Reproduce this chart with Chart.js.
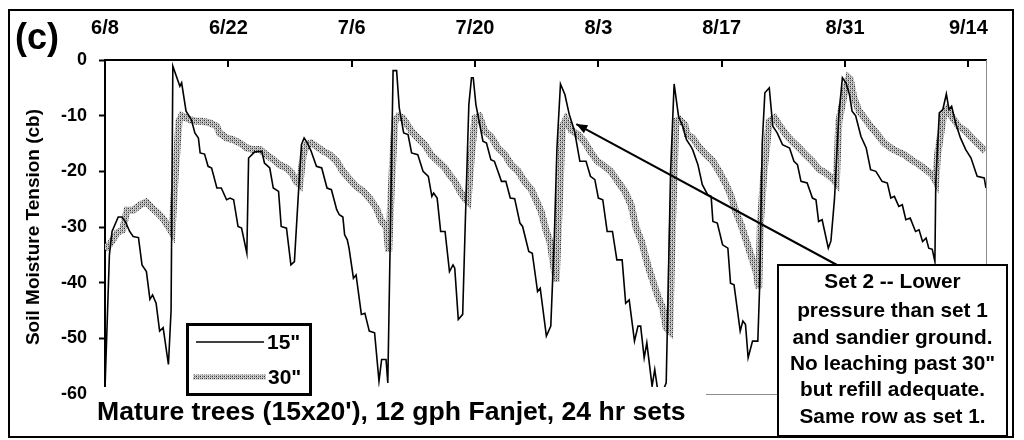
<!DOCTYPE html>
<html><head><meta charset="utf-8">
<script src="https://cdn.jsdelivr.net/npm/chart.js@4/dist/chart.umd.min.js"></script>
<style>html,body{margin:0;padding:0;background:#fff;}#wrap{width:1024px;height:440px;}</style>
</head><body><div id="wrap"><canvas id="c" width="1024" height="440"></canvas></div>
<script>
// ---- data (x = days after 6/8, y = soil moisture tension in cb) ----
const xTickDays = [0, 14, 28, 42, 56, 70, 84, 98];
const xTickLabels = ['6/8', '6/22', '7/6', '7/20', '8/3', '8/17', '8/31', '9/14'];
const seriesLabels = ['15"', '30"'];

const days15 = [0,0.5,0.8,1.5,1.9,2.3,2.8,3.2,3.8,4.2,4.7,5.1,5.4,5.8,6.2,6.6,7.2,7.5,7.7,8.3,8.5,8.7,9.2,9.8,10.2,10.6,10.8,11.3,11.7,12.1,12.7,13.2,13.8,14.2,14.6,15.1,15.5,16.1,16.3,17.0,17.8,18.1,18.7,19.1,19.7,20.0,20.6,21.1,21.5,21.9,22.3,22.6,23.0,23.4,24.0,24.6,25.2,25.7,26.3,26.6,27.0,27.2,27.5,27.7,28.2,28.5,29.1,29.5,30.0,30.6,31.1,31.4,31.9,32.1,32.4,32.7,33.1,33.4,33.9,34.4,34.8,35.5,36.1,36.7,37.1,37.3,37.7,38.1,38.6,39.1,39.5,39.7,40.1,40.6,40.9,41.3,41.6,41.8,42.1,42.9,43.3,43.8,44.2,45.0,45.5,46.0,46.5,47.1,47.4,48.1,48.5,49.1,49.4,50.1,50.6,51.0,51.3,51.7,52.2,52.7,53.3,53.9,54.6,55.1,55.6,56.0,56.5,57.0,57.6,58.1,58.7,59.1,59.5,60.1,60.5,60.8,61.2,61.5,62.1,62.4,62.7,63.2,63.7,64.2,64.6,65.1,65.6,66.0,66.5,66.7,67.3,67.8,68.4,68.8,69.0,69.5,70.1,70.7,71.0,71.4,72.1,72.4,72.7,73.0,73.5,74.1,74.3,74.6,74.9,75.4,75.8,76.3,76.9,77.7,78.2,78.6,79.0,79.7,80.3,80.7,81.0,81.4,82.1,82.4,82.8,83.3,83.7,84.1,84.5,84.8,85.2,85.8,86.4,86.9,87.5,88.2,88.8,89.2,89.6,90.1,90.5,90.9,91.4,92.0,92.4,92.8,93.2,93.5,93.9,94.2,94.3,94.7,95.1,95.5,95.8,96.1,96.6,97.1,97.7,98.3,98.8,99.0,99.8,100];
const tension15 = [-59,-35,-30.8,-28.2,-28.2,-29,-30.8,-31.7,-31.9,-36.8,-38,-43,-42.2,-43.7,-48.7,-48.1,-54.7,-45,-1.1,-3.8,-4.7,-4.1,-9.2,-10.7,-13.1,-14,-16.7,-16.9,-19.1,-19.4,-23,-23,-25.1,-24.8,-25.1,-29.9,-30.2,-34.7,-17.6,-16.5,-16.4,-18.5,-19.4,-23,-23.6,-29.9,-30.2,-36.8,-36.2,-25.4,-15.2,-14,-15,-16.4,-19.1,-19.4,-23,-23.3,-26.9,-27.8,-28.2,-31.4,-32.3,-33.8,-39.2,-38.6,-45.7,-45.5,-48.7,-49,-57.7,-53.8,-53.8,-58,-30,-1.9,-1.9,-8.6,-13.1,-13.4,-16.7,-17,-20,-20.9,-24.5,-23.9,-24.8,-30.8,-30.8,-38,-36.8,-37.4,-46.6,-45.7,-29,-8,-3.2,-3.2,-8,-14.6,-14.9,-17.9,-18.2,-21.8,-21.8,-24.8,-24.9,-29.3,-29.9,-34.4,-34.7,-41.6,-41,-49.6,-47.8,-32,-15.8,-4.3,-6.2,-9.8,-12.8,-18.2,-18.2,-20.9,-21.5,-24.8,-25.1,-30.8,-30.8,-35.9,-35.9,-43.7,-43.1,-50.5,-47.8,-47.8,-53.5,-50.8,-58.6,-55.6,-58.9,-60,-58,-20,-4.3,-10.1,-12,-14.3,-15.5,-16.1,-18.8,-22.4,-24.2,-24.5,-29,-29.3,-33.2,-33.8,-40.1,-40.4,-48.7,-46.9,-47.5,-53.5,-50.5,-50.5,-41,-15,-5.9,-5,-11.9,-13.1,-15.2,-15.8,-18.2,-18.8,-21.8,-22.1,-24.8,-25.1,-29,-28.7,-33.8,-32.5,-25,-9.8,-3.2,-4.1,-6.2,-9.2,-10,-13.7,-15.8,-19.7,-20,-21.8,-22.1,-24.8,-24.5,-26.3,-26,-28.7,-28.4,-30.8,-30.5,-32.6,-32,-33.8,-34,-36.2,-22,-9.5,-8.9,-6.1,-8.9,-8.3,-11.6,-14,-16.1,-17.6,-20,-20.9,-21.2,-23];

const days30 = [0,0.6,1.0,1.4,2.0,2.5,3.2,4.0,4.7,5.3,6.0,6.6,7.2,7.6,8.0,8.4,8.7,9.6,10.4,11.1,11.9,12.7,13.0,13.8,14.5,15.3,16.1,16.8,17.6,18.3,19.1,19.8,20.6,21.2,21.7,22.1,22.5,22.9,23.4,24.0,24.8,25.5,26.3,27.0,27.8,28.5,29.3,30.0,30.8,31.4,31.9,32.2,32.5,32.9,33.3,33.8,34.8,35.5,36.3,37.0,37.8,38.6,39.1,39.7,40.3,40.8,41.2,41.6,42.0,42.5,43.1,43.8,44.6,45.4,46.1,46.9,47.6,48.4,49.0,49.5,50.1,50.5,51.2,51.6,51.9,52.3,52.9,53.7,54.4,55.2,55.9,56.7,57.4,58.2,59.0,59.7,60.3,60.9,61.6,62.2,62.7,63.3,63.7,64.1,64.4,64.8,65.2,65.8,66.1,66.7,67.5,68.2,69.0,69.7,70.5,71.0,71.6,72.2,72.7,73.3,73.9,74.2,74.4,74.8,75.4,76.0,76.5,77.3,78.0,78.8,79.5,80.3,81.1,81.8,82.5,83.0,83.3,83.9,84.4,84.6,85.0,85.6,86.2,86.9,87.7,88.4,89.2,89.9,90.7,91.5,92.4,93.2,93.9,94.3,94.5,95.2,95.6,96.2,96.9,97.7,98.4,99.2,99.9];
const tension30 = [-34,-33,-32,-31,-30.5,-27,-27,-26,-25.5,-26.5,-27.5,-28.5,-30,-31,-20,-11,-10,-10.7,-11,-11,-11.3,-11.9,-13.1,-14,-14.3,-14.9,-15.8,-16.1,-16.1,-17,-17.9,-18.8,-19.4,-20.3,-21.8,-22.4,-17,-15.2,-14.9,-15.5,-16.4,-17,-18.2,-20,-21.5,-22.7,-23.6,-24.8,-26.6,-29,-29.9,-34.4,-23,-11,-10.1,-10.4,-12.8,-14,-15.2,-17,-18.2,-19.4,-20.6,-21.8,-23.6,-24.8,-25.4,-17,-10.4,-10.1,-12.8,-13.7,-15.8,-17,-18.8,-20,-21.8,-23.3,-25.4,-27.2,-30.8,-32.6,-39.8,-25,-12,-10.7,-12.6,-13.4,-14.6,-16.7,-18.2,-19.1,-20,-21.8,-23.6,-26,-30.2,-32.6,-36.8,-39.8,-42.2,-44.6,-48.1,-48.7,-30,-11,-10.7,-11.6,-13.4,-14,-15.8,-17,-18.2,-20,-22.4,-24.2,-27.2,-29.6,-32,-35,-38,-41,-29,-20,-11,-10.4,-11.6,-13.4,-14.6,-15.8,-17,-18.2,-19.7,-20.3,-21.2,-22.1,-11,-6.2,-3.2,-3.5,-6.8,-9.2,-10.4,-11.9,-13.4,-14.9,-15.8,-16.4,-17,-17.9,-18.8,-19.7,-20.6,-21.8,-17,-9.8,-8.9,-10.4,-11.9,-12.8,-14,-15.2,-16.4];

const titleText = "Mature trees (15x20'), 12 gph Fanjet, 24 hr sets";
const panelLabel = '(c)';
const noteLines = ['Set 2 -- Lower', 'pressure than set 1', 'and sandier ground.', 'No leaching past 30"', 'but refill adequate.', 'Same row as set 1.'];
const arrowTip = {x: 53.5, y: -11.5};

// ---- drawing ----
const FONT = "'Liberation Sans', Arial, Helvetica, sans-serif";
Chart.defaults.font.family = FONT;
const canvas = document.getElementById('c');
const ctx0 = canvas.getContext('2d');

function dotPattern(){
  const t = document.createElement('canvas'); t.width = 4; t.height = 4;
  const g = t.getContext('2d');
  g.fillStyle = '#b8b8b8'; g.fillRect(0,0,4,4);
  g.fillStyle = '#ececec'; g.fillRect(1,0,1,1); g.fillRect(3,2,1,1);
  g.fillStyle = '#2e2e2e'; g.fillRect(0,0,1,1); g.fillRect(2,2,1,1);
  g.fillStyle = '#6a6a6a'; g.fillRect(0,2,1,1); g.fillRect(2,0,1,1);
  return ctx0.createPattern(t, 'repeat');
}
const pat = dotPattern();

const toPts = (xs, ys) => xs.map((x,i) => ({x, y: ys[i]}));

const decor = {
  id: 'decor',
  beforeDatasetsDraw(chart){
    const {ctx, chartArea: a} = chart;
    ctx.save();
    ctx.strokeStyle = '#8c8c8c'; ctx.lineWidth = 1;
    ctx.beginPath();
    ctx.moveTo(a.right + 0.5, a.top); ctx.lineTo(a.right + 0.5, a.bottom + 0.5); ctx.lineTo(a.left, a.bottom + 0.5);
    ctx.stroke();
    const xs = chart.scales.x;
    ctx.strokeStyle = '#000'; ctx.lineWidth = 2;
    xTickDays.forEach(d => {
      const px = Math.round(xs.getPixelForValue(d));
      ctx.beginPath(); ctx.moveTo(px, a.top); ctx.lineTo(px, a.top + 7); ctx.stroke();
    });
    ctx.restore();
  },
  afterDatasetsDraw(chart){
    const {ctx} = chart;
    const xs = chart.scales.x, ys = chart.scales.y;
    ctx.save();
    // title with white background
    ctx.fillStyle = '#fff'; ctx.fillRect(96, 387, 610, 46);
    ctx.fillStyle = '#000'; ctx.font = 'bold 26.6px ' + FONT;
    ctx.textAlign = 'left'; ctx.textBaseline = 'alphabetic';
    ctx.fillText(titleText, 97, 420);
    // legend
    ctx.fillStyle = '#fff'; ctx.fillRect(187, 324, 123, 70);
    ctx.strokeStyle = '#000'; ctx.lineWidth = 3; ctx.strokeRect(187.5, 324.5, 123, 70);
    ctx.lineWidth = 1.5; ctx.beginPath(); ctx.moveTo(196, 342); ctx.lineTo(264, 342); ctx.stroke();
    ctx.strokeStyle = pat; ctx.lineWidth = 5; ctx.beginPath(); ctx.moveTo(193, 377); ctx.lineTo(266, 377); ctx.stroke();
    ctx.fillStyle = '#000'; ctx.font = 'bold 21px ' + FONT; ctx.textBaseline = 'middle';
    ctx.fillText(seriesLabels[0], 267, 343);
    ctx.fillText(seriesLabels[1], 268, 378);
    // annotation box
    ctx.fillStyle = '#fff'; ctx.fillRect(778, 265, 229, 171);
    ctx.strokeStyle = '#000'; ctx.lineWidth = 2; ctx.strokeRect(778, 265, 229, 171);
    ctx.fillStyle = '#000'; ctx.font = 'bold 20.8px ' + FONT; ctx.textAlign = 'center';
    const lineY = [282, 311, 338, 364, 390, 417];
    noteLines.forEach((t, i) => ctx.fillText(t, 892.5, lineY[i]));
    // arrow
    const tx = xs.getPixelForValue(arrowTip.x), ty = ys.getPixelForValue(arrowTip.y);
    const sx = 837, sy = 265;
    ctx.strokeStyle = '#000'; ctx.lineWidth = 2;
    ctx.beginPath(); ctx.moveTo(sx, sy); ctx.lineTo(tx, ty); ctx.stroke();
    const ang = Math.atan2(ty - sy, tx - sx), L = 11, W = 4.5;
    ctx.beginPath();
    ctx.moveTo(tx, ty);
    ctx.lineTo(tx - L*Math.cos(ang) + W*Math.sin(ang), ty - L*Math.sin(ang) - W*Math.cos(ang));
    ctx.lineTo(tx - L*Math.cos(ang) - W*Math.sin(ang), ty - L*Math.sin(ang) + W*Math.cos(ang));
    ctx.closePath(); ctx.fillStyle = '#000'; ctx.fill();
    // panel label
    ctx.textAlign = 'left'; ctx.textBaseline = 'alphabetic';
    ctx.font = 'bold 36px ' + FONT; ctx.fillText(panelLabel, 15, 49);
    // outer border
    ctx.lineWidth = 2; ctx.strokeRect(9, 10, 1004, 427);
    ctx.restore();
  }
};

new Chart(canvas, {
  type: 'scatter',
  data: {
    datasets: [
      { label: seriesLabels[1], data: toPts(days30, tension30), showLine: true, borderColor: pat, backgroundColor: pat,
        borderWidth: 7, pointRadius: 0, tension: 0, borderJoinStyle: 'miter', order: 2 },
      { label: seriesLabels[0], data: toPts(days15, tension15), showLine: true, borderColor: '#000', backgroundColor: '#000',
        borderWidth: 1.6, pointRadius: 0, tension: 0, order: 1 }
    ]
  },
  options: {
    responsive: false, animation: false, devicePixelRatio: 1,
    layout: { padding: { top: 8, left: 8, right: 38, bottom: 46 } },
    plugins: { legend: { display: false }, tooltip: { enabled: false } },
    scales: {
      x: {
        type: 'linear', position: 'top', min: 0, max: 100,
        afterBuildTicks: s => { s.ticks = xTickDays.map(v => ({ value: v })); },
        afterFit: s => { s.height = 52; },
        ticks: { callback: v => { const i = xTickDays.indexOf(v); return i >= 0 ? xTickLabels[i] : ''; },
                 font: { size: 20, weight: 'bold' }, color: '#000', maxRotation: 0, autoSkip: false, padding: 20 },
        grid: { drawOnChartArea: false, drawTicks: false },
        border: { display: true, color: '#000', width: 2 }
      },
      y: {
        min: -60, max: 0,
        afterFit: s => { s.width = 97; },
        ticks: { stepSize: 10, font: { size: 18, weight: 'bold' }, color: '#000', padding: 12 },
        grid: { drawOnChartArea: false, drawTicks: true, tickLength: 6, tickColor: '#000', tickWidth: 2 },
        border: { display: true, color: '#000', width: 2 },
        title: { display: true, text: 'Soil Moisture Tension (cb)', font: { size: 19, weight: 'bold' }, color: '#000', padding: { top: 14, bottom: 0 } }
      }
    }
  },
  plugins: [decor]
});
</script></body></html>
